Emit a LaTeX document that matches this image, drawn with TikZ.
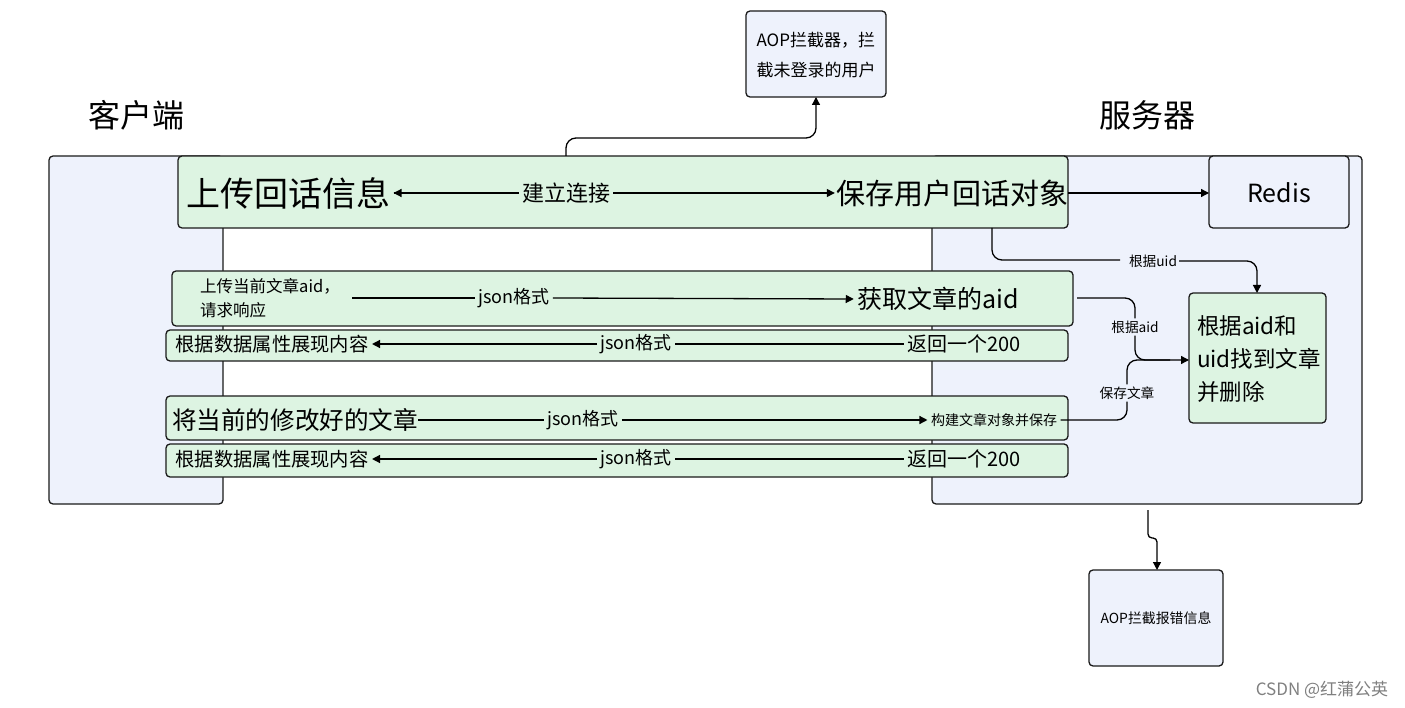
\documentclass[tikz,border=0pt]{standalone}
\usepackage{fontspec}
\setmainfont{Noto Sans CJK SC}
\usetikzlibrary{arrows.meta}
\definecolor{lane}{HTML}{EEF2FC}
\definecolor{grn}{HTML}{DDF4E2}
\definecolor{edge}{HTML}{1A1A1A}
\newcommand{\fs}[1]{\fontsize{#1}{#1}\selectfont}
\begin{document}
\begin{tikzpicture}[x=1pt,y=-1pt,
  box/.style={draw=edge,line width=1.3pt,rounded corners=4pt},
  gbox/.style={box,fill=grn},
  con/.style={draw=black,line width=1.3pt,rounded corners=10pt},
  arr/.style={con,-{Triangle[length=8pt,width=8pt]}},
  lab/.style={fill=grn,inner sep=3pt,font=\fs{18}},
  slab/.style={fill=lane,inner sep=2pt,font=\fs{13.7}}]
\useasboundingbox (0,0) rectangle (1405,708);
\fill[white] (0,0) rectangle (1405,708);
% lanes
\draw[box,fill=lane] (49,156) rectangle (223,504);
\draw[box,fill=lane] (932,156) rectangle (1362,504);
\node[font=\fs{32}] (client) at (136,115) {客户端};
\node[font=\fs{32}] (server) at (1147,115) {服务器};
% AOP top
\draw[box,fill=lane] (746,11) rectangle (886,97);
\node[align=left,font=\fontsize{17}{30}\selectfont] (aop1) at (816,55) {AOP拦截器，拦\\截未登录的用户};
\coordinate (aop1b) at (816,97);
% AOP bottom
\draw[box,fill=lane] (1089,570) rectangle (1223,666);
\node[font=\fs{13.9}] (aop2) at (1156,618) {AOP拦截报错信息};
\coordinate (aop2t) at (1157,570);
% Redis
\draw[box,fill=lane] (1209,156) rectangle (1349,228);
\node[font=\fs{25}] (redis) at (1279,193) {Redis};
\coordinate (redisl) at (1209,193);
% delete box
\draw[gbox] (1189,293) rectangle (1326,423);
\node[align=left,font=\fontsize{22.5}{33}\selectfont] (del) at (1259,359) {根据aid和\\uid找到文章\\并删除};
\coordinate (delt) at (1257,293);
\coordinate (dell) at (1189,360);
% row 1
\draw[gbox] (178,156) rectangle (1068,228);
\node[font=\fs{34}] (up) at (288,193) {上传回话信息};
\node[font=\fs{29},inner sep=1pt] (save) at (952,193) {保存用户回话对象};
\node[lab,font=\fs{22}] (conn) at (566,193) {建立连接};
\draw[con] (up.east) -- (conn.west);
\draw[arr] (conn.west) -- (up.east);
\draw[arr] (conn.east) -- (save.west);
\draw[arr] (566,156) -- (566,138) -- (816,138) -- (aop1b);
\draw[arr] (1068,193) -- (redisl);
\draw[con] (992,228) -- (992,260) -- (1120,260);
\node[slab] (uidl) at (1153,261) {根据uid};
\draw[arr] (uidl.east) -- (1257,261) -- (delt);
% row 2
\draw[gbox] (172,271) rectangle (1073,326);
\node[align=left,font=\fontsize{16.5}{24}\selectfont] (up2) at (270,298) {上传当前文章aid，\\请求响应};
\node[font=\fs{25}] (get) at (938,299) {获取文章的aid};
\node[lab] (j1) at (514,298) {json格式};
\draw[con] (352,298) -- (j1.west);
\draw[arr] (j1.east) -- (get.west);
% row 3
\draw[gbox] (166,330) rectangle (1068,361);
\node[font=\fs{19.3}] (show1) at (272,344) {根据数据属性展现内容};
\node[font=\fs{20}] (ret1) at (964,344) {返回一个200};
\node[lab] (j2) at (636,344) {json格式};
\draw[con] (ret1.west) -- (j2.east);
\draw[arr] (j2.west) -- (show1.east);
% row 4
\draw[gbox] (166,396) rectangle (1068,440);
\node[font=\fs{24.6},inner sep=0pt] (mod) at (295,420) {将当前的修改好的文章};
\node[font=\fs{14}] (build) at (994,420) {构建文章对象并保存};
\node[lab] (j3) at (583,420) {json格式};
\draw[con] (mod.east) -- (j3.west);
\draw[arr] (j3.east) -- (build.west);
% row 5
\draw[gbox] (166,444) rectangle (1068,477);
\node[font=\fs{19.3}] (show2) at (272,459) {根据数据属性展现内容};
\node[font=\fs{20}] (ret2) at (964,459) {返回一个200};
\node[lab] (j4) at (636,459) {json格式};
\draw[con] (ret2.west) -- (j4.east);
\draw[arr] (j4.west) -- (show2.east);
% right connectors
\node[slab] (aidl) at (1135,327) {根据aid};
\node[slab] (savl) at (1127,393) {保存文章};
\draw[con] (1077,298) -- (1135,298) -- (aidl.north);
\draw[arr] (aidl.south) -- (1135,360) -- (dell);
\draw[con] (build.east) -- (1127,420) -- (savl.south);
\draw[con] (savl.north) -- (1127,360) -- (1170,360);
\draw[arr,rounded corners=4pt] (1148,510) -- (1148,538) -- (1157,538) -- (aop2t);
\node[text=gray,font=\fs{17}] (wm) at (1322,690) {CSDN @红蒲公英};
\end{tikzpicture}
\end{document}
